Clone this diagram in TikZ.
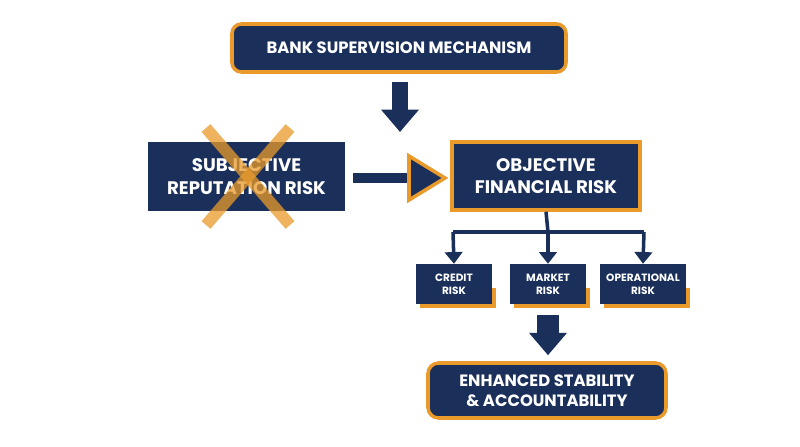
\documentclass[tikz,border=0pt]{standalone}
\usepackage{fontspec}
\setmainfont{Poppins}
\usetikzlibrary{arrows.meta, positioning, calc}
\definecolor{banknavy}{HTML}{1B2F5B}
\definecolor{bankorange}{HTML}{E99A2A}
\begin{document}
\begin{tikzpicture}[
    x=0.03cm, y=-0.03cm,
    every node/.style={text=white, font=\bfseries, align=center},
    mainbox/.style={
      rectangle, fill=banknavy, draw=bankorange,
      line width=3pt, inner sep=0pt},
    plainbox/.style={
      rectangle, fill=banknavy, inner sep=0pt},
    riskbox/.style={
      rectangle, fill=banknavy, inner sep=0pt,
      minimum height=40*0.03cm, font=\bfseries\fontsize{9}{11}\selectfont},
    bigarrow/.style={banknavy, -{Triangle[width=31pt, length=19pt]}},
    treearrow/.style={banknavy, line width=3pt, -{Triangle[width=15pt, length=10pt]}}
  ]
  \useasboundingbox (0,0) rectangle (800,447);
  % boxes
  \node[mainbox, rounded corners=8pt, minimum width=334*0.03cm, minimum height=48*0.03cm,
    font=\bfseries\fontsize{14}{16}\selectfont] (bsm) at (399,48)
    {BANK SUPERVISION MECHANISM};
  \node[plainbox, minimum width=197*0.03cm, minimum height=69*0.03cm,
    font=\bfseries\fontsize{15.5}{19}\selectfont] (subj) at (246.5,176.5)
    {SUBJECTIVE\\REPUTATION RISK};
  \node[mainbox, minimum width=188*0.03cm, minimum height=68*0.03cm,
    font=\bfseries\fontsize{15.5}{19}\selectfont] (obj) at (546,176)
    {OBJECTIVE\\FINANCIAL RISK};
  \foreach \name/\cx/\w/\txt in {credit/454/76/CREDIT\\RISK,
                                 market/548/76/MARKET\\RISK,
                                 oper/643/86/OPERATIONAL\\RISK} {
    \fill[bankorange] (\cx-\w/2+4,288) rectangle (\cx+\w/2+4,308);
    \node[riskbox, minimum width=\w*0.03cm] (\name) at (\cx,284) {\txt};
  }
  \node[mainbox, rounded corners=9pt, minimum width=238*0.03cm, minimum height=55*0.03cm,
    font=\bfseries\fontsize{14}{17}\selectfont] (stab) at (547,390.5)
    {ENHANCED STABILITY\\\& ACCOUNTABILITY};
  % crossed out
  \draw[bankorange, opacity=0.75, line width=10pt] (206,128) -- (290,225);
  \draw[bankorange, opacity=0.75, line width=10pt] (290,128) -- (206,225);
  % arrows
  \coordinate (topgap) at (400,132);
  \draw[bigarrow, line width=13pt] ($(bsm.south)+(1,8)$) -- (topgap);
  \coordinate (rtip) at (445,178);
  \draw[banknavy, line width=8.5pt] ($(subj.east)+(8,1.5)$) -- ($(rtip)+(-36,0)$);
  \filldraw[fill=banknavy, draw=bankorange, line width=3pt, line join=miter]
    (rtip) -- ++(-36,-22) -- ++(0,44) -- cycle;
  \coordinate (split) at (548,232);
  \draw[banknavy, line width=3pt] (obj.south) -- (split);
  \draw[banknavy, line width=3pt] (453,232) -- (644,232);
  \draw[treearrow] (453,232) -- (credit.north);
  \draw[treearrow] (split) -- (market.north);
  \draw[treearrow] (644,232) -- (oper.north);
  \draw[bigarrow, line width=19pt] ($(market.south)+(0,11)$) -- ($(stab.north)+(1,-6)$);
\end{tikzpicture}
\end{document}
